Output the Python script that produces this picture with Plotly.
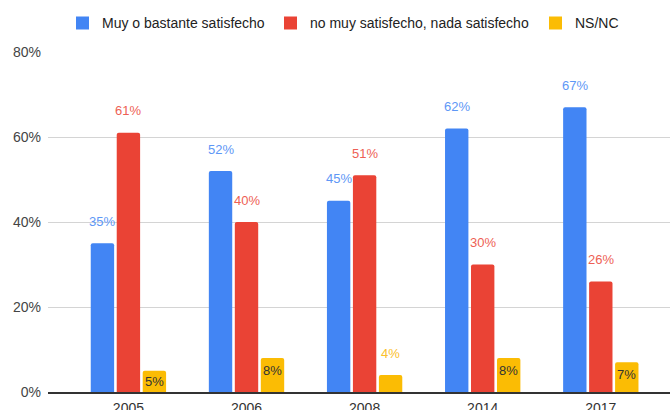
import plotly.graph_objects as go

# Survey results by year (percent of respondents)
years = ["2005", "2006", "2008", "2014", "2017"]
satisfied = [35, 52, 45, 62, 67]
unsatisfied = [61, 40, 51, 30, 26]
nsnc = [5, 8, 4, 8, 7]

series_names = ["Muy o bastante satisfecho", "no muy satisfecho, nada satisfecho", "NS/NC"]
bar_colors = ["#4285F4", "#EA4335", "#FBBC04"]
label_colors = ["#5E97F6", "#EE5F55", "#FBC02D"]
y_ticks = [0, 20, 40, 60, 80]

W, H = 670, 410
M_L, M_R, M_T, M_B = 48, 0, 52, 18
plot_w = W - M_L - M_R
plot_h = H - M_T - M_B
Y_MAX = 80
px_per_unit = plot_h / Y_MAX

FONT = "Liberation Sans, Arial, sans-serif"

fig = go.Figure()
all_series = [satisfied, unsatisfied, nsnc]
for name, vals, col in zip(series_names, all_series, bar_colors):
    fig.add_trace(go.Bar(
        x=years, y=vals, name=name,
        marker=dict(color=col, line=dict(width=0)),
        showlegend=False, hoverinfo="x+y+name",
    ))

# value labels: above the bar, or inside its top when there is room
offsets = [-26, 0, 26]
annotations = []
for s, vals in enumerate(all_series):
    for i, v in enumerate(vals):
        bar_px = v * px_per_unit
        if s == 2 and bar_px >= 20:
            annotations.append(dict(
                x=i, y=v, xref="x", yref="y", text=f"{v}%",
                showarrow=False, xshift=offsets[s], yshift=-min(12.5, bar_px / 2),
                yanchor="middle", font=dict(family=FONT, size=13, color="#333333"),
            ))
        else:
            annotations.append(dict(
                x=i, y=v, xref="x", yref="y", text=f"{v}%",
                showarrow=False, xshift=offsets[s], yshift=22,
                yanchor="middle", font=dict(family=FONT, size=13, color=label_colors[s]),
            ))

# legend row across the top
def to_paper_x(px):
    return (px - M_L) / plot_w

def to_paper_y(py):
    return (H - M_B - py) / plot_h

legend_squares = [76, 284, 549]
legend_texts = [100, 308, 573]
shapes = []
for sx, tx, name, col in zip(legend_squares, legend_texts, series_names, bar_colors):
    shapes.append(dict(
        type="rect", xref="paper", yref="paper",
        x0=to_paper_x(sx), x1=to_paper_x(sx + 13),
        y0=to_paper_y(29.5), y1=to_paper_y(16.5),
        fillcolor=col, line=dict(width=0), layer="above",
    ))
    annotations.append(dict(
        x=to_paper_x(tx), y=to_paper_y(23), xref="paper", yref="paper",
        text=name, showarrow=False, xanchor="left", yanchor="middle",
        font=dict(family=FONT, size=14, color="#222222"),
    ))

fig.update_layout(
    width=W, height=H,
    margin=dict(l=M_L, r=M_R, t=M_T, b=M_B, pad=0, autoexpand=False),
    paper_bgcolor="white", plot_bgcolor="white",
    barmode="group", bargap=0.34, bargroupgap=0.1, barcornerradius=2,
    font=dict(family=FONT, size=14, color="#444444"),
    shapes=shapes, annotations=annotations,
    xaxis=dict(
        type="category", range=[-0.681, 4.586], automargin=False,
        showgrid=False, showline=True, linecolor="#333333", linewidth=1.5,
        ticks="", ticklabelstandoff=2,
        tickfont=dict(family=FONT, size=14, color="#333333"),
        fixedrange=True,
    ),
    yaxis=dict(
        range=[0, Y_MAX], tickvals=y_ticks, ticktext=[f"{t}%" for t in y_ticks],
        automargin=False,
        showgrid=True, gridcolor="#d4d4d4", gridwidth=1,
        zeroline=False, showline=False, ticks="", ticklabelstandoff=6,
        tickfont=dict(family=FONT, size=14, color="#444444"),
        fixedrange=True,
    ),
)

fig.write_html("out.html")
